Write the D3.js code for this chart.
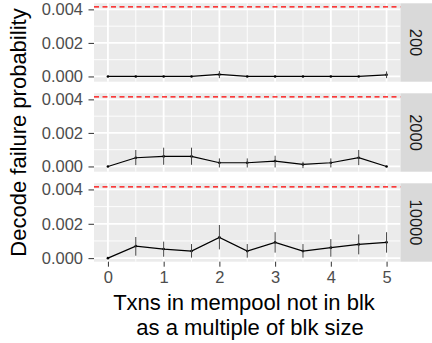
<!DOCTYPE html>
<html>
<head>
<meta charset="utf-8">
<script src="https://d3js.org/d3.v7.min.js"></script>
<style>
  body { margin:0; background:#fff; }
  text { font-family: "Liberation Sans", Arial, sans-serif; }
</style>
</head>
<body>
<div id="my_dataviz"></div>
<script>
// data
var facets = ["200", "2000", "10000"];
var xs = [0, 0.5, 1, 1.5, 2, 2.5, 3, 3.5, 4, 4.5, 5];

var y200    = [0, 0, 0, 0, 0.00012, 0, 0, 0, 0, 0, 0.0001];
var lo200   = [0, 0, 0, 0, -0.0001, 0, 0, 0, 0, 0, -0.0001];
var hi200   = [0, 0, 0, 0, 0.00032, 0, 0, 0, 0, 0, 0.0003];

var y2000   = [0, 0.00052, 0.0006, 0.0006, 0.00022, 0.00022, 0.00032, 0.00012, 0.00022, 0.00052, 0];
var lo2000  = [0, 0.00008, 0.0001, 0.0001, -0.00006, -0.00006, -0.00006, -0.0001, -0.00006, 0.00008, 0];
var hi2000  = [0, 0.00098, 0.00112, 0.00112, 0.00048, 0.00048, 0.00064, 0.00028, 0.00048, 0.00098, 0];

var y10000  = [0, 0.0007, 0.00053, 0.00041, 0.00121, 0.00041, 0.00092, 0.00041, 0.00061, 0.0008, 0.00092];
var lo10000 = [0, 0.00014, 0.00008, 0.00003, 0.00051, 0.00003, 0.00032, 0.00003, 0.00008, 0.00022, 0.00032];
var hi10000 = [0, 0.00123, 0.00096, 0.00082, 0.00193, 0.00082, 0.00151, 0.00082, 0.00111, 0.00138, 0.00151];

var threshold = 0.00415;
var xTicks = [0, 1, 2, 3, 4, 5];
var yTicks = [0, 0.002, 0.004];
var yTickLabels = ["0.000", "0.002", "0.004"];

var series = [
  {name: facets[0], y: y200, lo: lo200, hi: hi200},
  {name: facets[1], y: y2000, lo: lo2000, hi: hi2000},
  {name: facets[2], y: y10000, lo: lo10000, hi: hi10000}
];

var W = 432, H = 343;
var pl = 94, pr = 400.5, stripW = 31.5;
var panelTops = [3.3, 93.3, 183.3], ph = 78.4;
var tickFont = "16.5px", titleFont = "22px";

var svg = d3.select("#my_dataviz").append("svg")
  .attr("width", W).attr("height", H);

var x = d3.scaleLinear().domain([-0.25, 5.25]).range([pl, pr]);

series.forEach(function(s, i) {
  var top = panelTops[i];
  var lo = Math.min(0, d3.min(s.lo)), hi = Math.max(threshold, d3.max(s.hi));
  var pad = (hi - lo) * 0.05;
  var y = d3.scaleLinear().domain([lo - pad, hi + pad]).range([top + ph, top]);

  var g = svg.append("g");
  g.append("rect").attr("x", pl).attr("y", top).attr("width", pr - pl).attr("height", ph)
    .attr("fill", "#EBEBEB");

  // minor grid
  [0.001, 0.003].forEach(function(v) {
    g.append("line").attr("x1", pl).attr("x2", pr).attr("y1", y(v)).attr("y2", y(v))
      .attr("stroke", "#fff").attr("stroke-width", 0.9);
  });
  [0.5, 1.5, 2.5, 3.5, 4.5].forEach(function(v) {
    g.append("line").attr("x1", x(v)).attr("x2", x(v)).attr("y1", top).attr("y2", top + ph)
      .attr("stroke", "#fff").attr("stroke-width", 0.9);
  });
  // major grid
  yTicks.forEach(function(v) {
    g.append("line").attr("x1", pl).attr("x2", pr).attr("y1", y(v)).attr("y2", y(v))
      .attr("stroke", "#fff").attr("stroke-width", 1.8);
  });
  xTicks.forEach(function(v) {
    g.append("line").attr("x1", x(v)).attr("x2", x(v)).attr("y1", top).attr("y2", top + ph)
      .attr("stroke", "#fff").attr("stroke-width", 1.8);
  });

  var pts = xs.map(function(xv, k) { return {x: xv, y: s.y[k], lo: s.lo[k], hi: s.hi[k]}; });

  g.append("path").datum(pts)
    .attr("d", d3.line().x(function(d) { return x(d.x); }).y(function(d) { return y(d.y); }))
    .attr("fill", "none").attr("stroke", "#000").attr("stroke-width", 1.2);

  g.selectAll("circle").data(pts).enter().append("circle")
    .attr("cx", function(d) { return x(d.x); }).attr("cy", function(d) { return y(d.y); })
    .attr("r", 1.3).attr("fill", "#000");

  g.selectAll(".err").data(pts.filter(function(d) { return d.hi > d.lo; })).enter().append("line")
    .attr("x1", function(d) { return x(d.x); }).attr("x2", function(d) { return x(d.x); })
    .attr("y1", function(d) { return y(d.lo); }).attr("y2", function(d) { return y(d.hi); })
    .attr("stroke", "#444").attr("stroke-width", 1);

  g.append("line").attr("x1", pl).attr("x2", pr).attr("y1", y(threshold)).attr("y2", y(threshold))
    .attr("stroke", "#FF0000").attr("stroke-width", 1.3).attr("stroke-dasharray", "5,3.5");

  // y axis
  var ya = d3.axisLeft(y).tickValues(yTicks).tickSize(5.5).tickPadding(5.5)
    .tickFormat(function(d, k) { return yTickLabels[k]; });
  var yg = g.append("g").attr("transform", "translate(" + pl + ",0)").call(ya);
  yg.select(".domain").remove();
  yg.selectAll("line").attr("stroke", "#333").attr("stroke-width", 1);
  yg.selectAll("text").attr("fill", "#4D4D4D").style("font-size", tickFont)
    .style("font-family", "'Liberation Sans', Arial, sans-serif");

  // strip
  g.append("rect").attr("x", pr).attr("y", top).attr("width", stripW).attr("height", ph)
    .attr("fill", "#D9D9D9");
  g.append("text").attr("transform", "translate(" + (pr + stripW / 2) + "," + (top + ph / 2) + ") rotate(90)")
    .attr("text-anchor", "middle").attr("dy", "0.35em")
    .attr("fill", "#1A1A1A").style("font-size", tickFont).text(s.name);
});

// x axis under last panel
var bottom = panelTops[2] + ph;
var xa = d3.axisBottom(x).tickValues(xTicks).tickSize(5).tickPadding(5).tickFormat(d3.format("d"));
var xg = svg.append("g").attr("transform", "translate(0," + bottom + ")").call(xa);
xg.select(".domain").remove();
xg.selectAll("line").attr("stroke", "#333").attr("stroke-width", 1);
xg.selectAll("text").attr("fill", "#4D4D4D").style("font-size", tickFont)
  .style("font-family", "'Liberation Sans', Arial, sans-serif");

// titles
svg.append("text").attr("x", 244).attr("y", 310).attr("text-anchor", "middle")
  .style("font-size", titleFont).attr("fill", "#000").text("Txns in mempool not in blk");
svg.append("text").attr("x", 250).attr("y", 334.5).attr("text-anchor", "middle")
  .style("font-size", titleFont).attr("fill", "#000").text("as a multiple of blk size");
svg.append("text").attr("transform", "translate(26," + ((panelTops[0] + bottom) / 2) + ") rotate(-90)")
  .attr("text-anchor", "middle").style("font-size", titleFont).attr("fill", "#000")
  .text("Decode failure probability");
</script>
</body>
</html>
